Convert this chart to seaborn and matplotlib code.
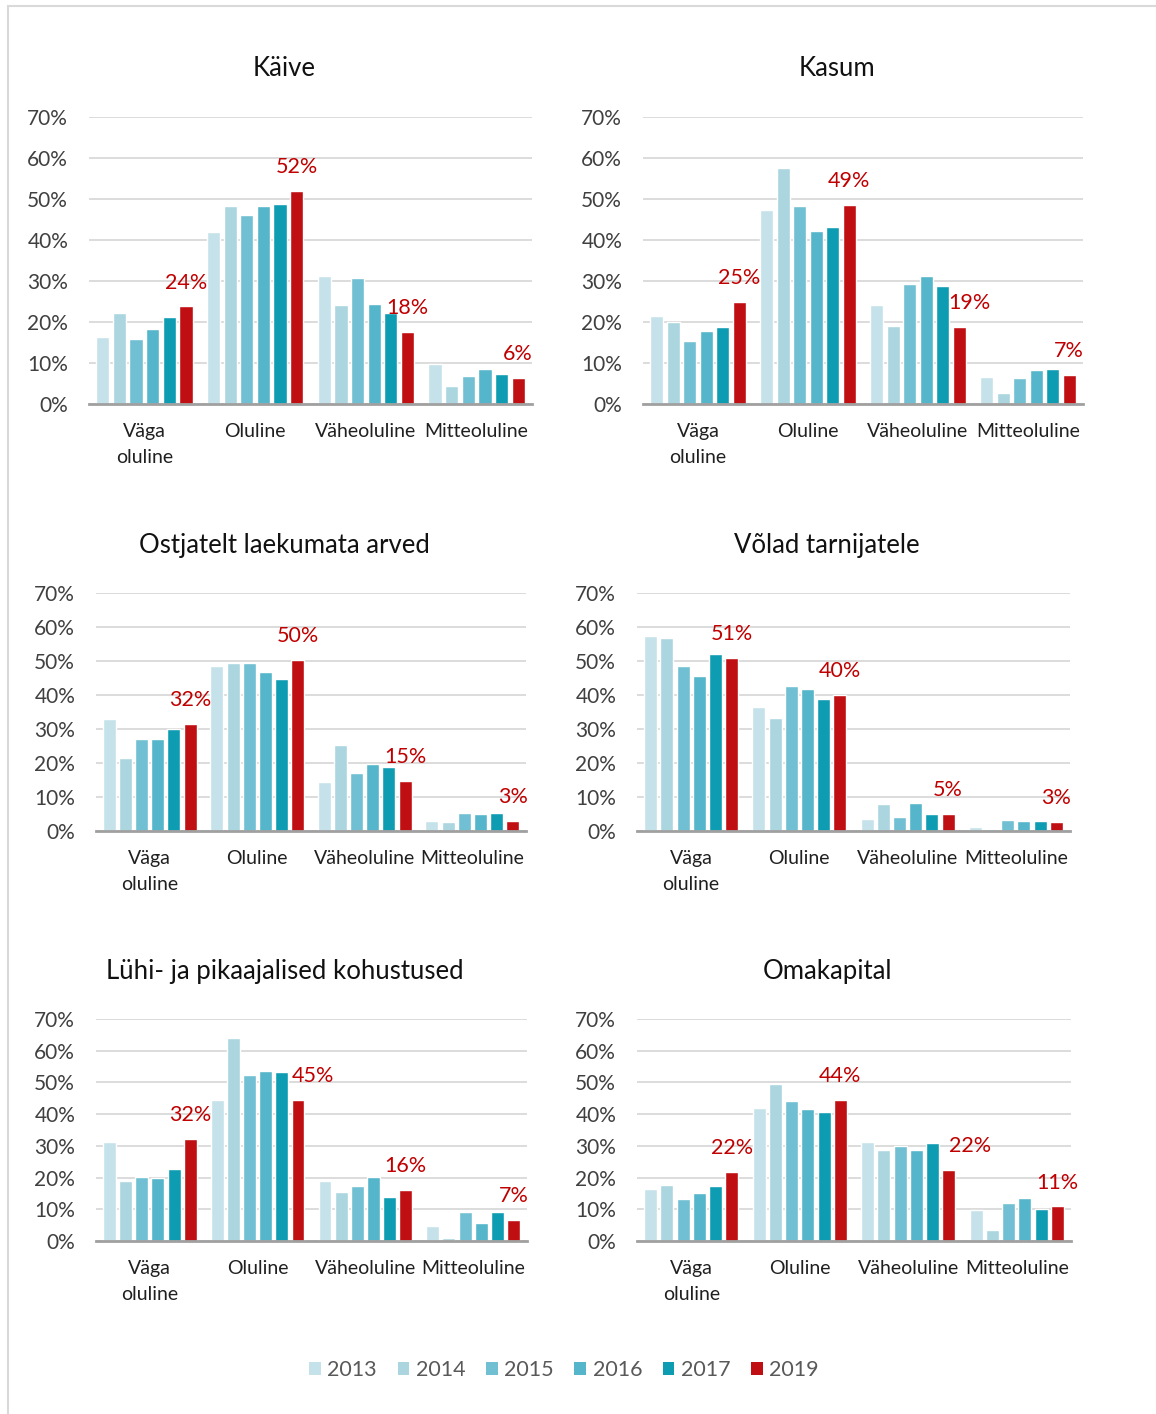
import pandas as pd
import seaborn as sns
import matplotlib.pyplot as plt
from matplotlib.patches import Patch, Rectangle
from matplotlib.ticker import FuncFormatter

# Andmed (protsentides), iga rida = kategooria, veerud = aastad
categories = ['Väga\noluline', 'Oluline', 'Väheoluline', 'Mitteoluline']
years = ['2013', '2014', '2015', '2016', '2017', '2019']
colors = ['#c5e2ea', '#abd5df', '#70bfd2', '#55b5ca', '#0e9cb3', '#c00f12']

kaive = [[16.4, 22.3, 15.8, 18.2, 21.2, 23.8],
         [41.9, 48.4, 46.2, 48.2, 48.7, 51.9],
         [31.3, 24.1, 30.7, 24.4, 22.2, 17.6],
         [9.8, 4.3, 6.8, 8.5, 7.2, 6.3]]
kasum = [[21.5, 20.0, 15.3, 17.8, 18.7, 24.8],
         [47.2, 57.5, 48.4, 42.1, 43.2, 48.6],
         [24.1, 19.1, 29.2, 31.2, 28.9, 18.9],
         [6.6, 2.7, 6.4, 8.3, 8.6, 7.1]]
ostjatelt = [[32.8, 21.6, 27.0, 27.1, 30.0, 31.6],
             [48.5, 49.3, 49.5, 46.9, 44.7, 50.2],
             [14.5, 25.4, 17.1, 19.7, 18.9, 14.6],
             [3.0, 2.6, 5.4, 5.1, 5.3, 3.0]]
volad = [[57.5, 56.9, 48.4, 45.7, 52.2, 51.0],
         [36.4, 33.2, 42.6, 41.7, 38.7, 39.9],
         [3.6, 7.8, 4.2, 8.3, 5.1, 5.1],
         [1.2, 0.6, 3.3, 2.9, 2.8, 2.6]]
kohustused = [[31.2, 19.0, 20.3, 19.9, 22.8, 32.3],
              [44.5, 64.1, 52.5, 53.6, 53.4, 44.6],
              [18.9, 15.4, 17.4, 20.3, 14.0, 16.2],
              [4.7, 0.8, 9.2, 5.6, 9.2, 6.6]]
omakapital = [[16.4, 17.6, 13.2, 15.1, 17.4, 21.8],
              [42.0, 49.4, 44.0, 41.7, 40.8, 44.4],
              [31.2, 28.8, 30.1, 28.7, 30.8, 22.4],
              [9.8, 3.6, 12.0, 13.7, 10.2, 10.9]]

titles = ['Käive', 'Kasum', 'Ostjatelt laekumata arved', 'Võlad tarnijatele',
          'Lühi- ja pikaajalised kohustused', 'Omakapital']
panels = [kaive, kasum, ostjatelt, volad, kohustused, omakapital]

W, H = 1156, 1414
# teljekastid pikslites (vasak, ülemine, parem, alumine)
boxes = [(89, 117, 532, 404), (643, 117, 1083, 404),
         (96, 593, 526, 831), (637, 593, 1070, 831),
         (96, 1019, 527, 1241), (637, 1019, 1071, 1241)]
title_pos = [(284, 69), (837, 69), (284, 546), (827, 546), (285, 972), (828, 972)]
# mõne 2019 sildi nihe paremale (punktides)
label_shift = {(1, 2): 7, (4, 1): 11, (5, 2): 15}

sns.set_theme(style='white')
plt.rcParams['font.family'] = ['Lato', 'DejaVu Sans']

fig = plt.figure(figsize=(W / 100, H / 100), dpi=100)

# hall raam
fig.patches.append(Rectangle((8 / W, -0.01), 1.01, 1 - 6 / H + 0.01,
                             transform=fig.transFigure, fill=False,
                             edgecolor='#d9d9d9', linewidth=1.5))

for i, (data, title) in enumerate(zip(panels, titles)):
    x0, y0, x1, y1 = boxes[i]
    ax = fig.add_axes([x0 / W, 1 - y1 / H, (x1 - x0) / W, (y1 - y0) / H])

    rows = []
    for c, vals in zip(categories, data):
        for y, v in zip(years, vals):
            rows.append({'Kategooria': c, 'Aasta': y, 'Osakaal': v})
    df = pd.DataFrame(rows)

    sns.barplot(data=df, x='Kategooria', y='Osakaal', hue='Aasta',
                hue_order=years, palette=colors, saturation=1,
                width=0.9, gap=0.2, legend=False, ax=ax)

    ax.set_ylim(0, 70)
    ax.set_yticks(range(0, 71, 10))
    ax.yaxis.set_major_formatter(FuncFormatter(lambda v, p: f'{v:.0f}%'))
    ax.grid(axis='y', color='#d9d9d9', linewidth=1.3)
    ax.set_axisbelow(True)
    for s in ['top', 'right', 'left']:
        ax.spines[s].set_visible(False)
    ax.spines['bottom'].set_color('#a0a0a0')
    ax.spines['bottom'].set_linewidth(2)
    ax.set_xlabel('')
    ax.set_ylabel('')
    ax.tick_params(axis='y', length=0, pad=15, labelsize=15, labelcolor='#404040')
    ax.tick_params(axis='x', length=0, pad=14, labelsize=14, labelcolor='#202020')
    for t in ax.get_xticklabels():
        t.set_linespacing(1.6)

    # 2019 väärtuse sildid
    last = ax.containers[-1]
    for j, bar in enumerate(last):
        v = data[j][-1]
        ax.annotate(f'{v:.0f}%', (bar.get_x() + bar.get_width() / 2, v),
                    xytext=(label_shift.get((i, j), 0), 10),
                    textcoords='offset points', ha='center', va='bottom',
                    fontsize=15.5, color='#c00000', annotation_clip=False)

    tx, ty = title_pos[i]
    fig.text(tx / W, 1 - ty / H, title, ha='center', va='center',
             fontsize=18.5, color='#111111')

handles = [Patch(facecolor=c, edgecolor='none') for c in colors]
fig.legend(handles, years, ncol=6, loc='center',
           bbox_to_anchor=(564 / W, 1 - 1370 / H), frameon=False,
           fontsize=15.5, labelcolor='#595959', handlelength=0.55,
           handleheight=0.55, handletextpad=0.3, columnspacing=0.95)

fig.savefig('out.png', dpi=100)
